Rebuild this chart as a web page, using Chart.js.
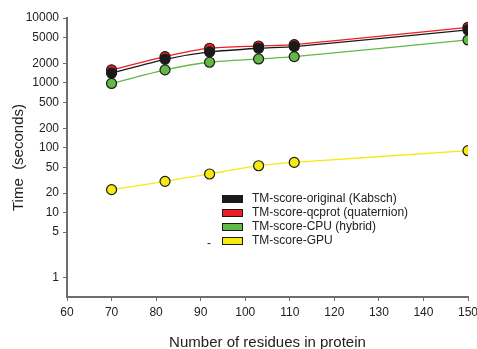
<!DOCTYPE html>
<html>
<head>
<meta charset="utf-8">
<script src="https://cdn.jsdelivr.net/npm/chart.js@4"></script>
<style>
  html, body { margin: 0; padding: 0; background: #fff; }
  #wrap { width: 477px; height: 349px; }
</style>
</head>
<body>
<div id="wrap"><canvas id="chart" width="477" height="349"></canvas></div>
<script>
const residues = [70, 82, 92, 103, 111, 150];
const kabsch = [1410, 2310, 3000, 3420, 3630, 6540];
const qcprot = [1585, 2540, 3420, 3700, 3890, 7190];
const cpuHybrid = [980, 1585, 2080, 2340, 2540, 4590];
const gpu = [22.6, 30.3, 39.4, 52.8, 59.4, 90];
const yTicks = [10000, 5000, 2000, 1000, 500, 200, 100, 50, 20, 10, 5, 1];
const seriesNames = ['TM-score-original (Kabsch)', 'TM-score-qcprot (quaternion)', 'TM-score-CPU (hybrid)', 'TM-score-GPU'];

const COLORS = {
  black: '#1a1a1a',
  red: '#ee1c24',
  green: '#62b946',
  yellow: '#f7ea10',
  axis: '#6e6e6e',
  text: '#222222'
};

function mkSet(label, vals, color) {
  return {
    label: label,
    data: residues.map((x, i) => ({ x: x, y: vals[i] })),
    borderColor: color,
    backgroundColor: color,
    borderWidth: 1.3,
    pointRadius: 5,
    pointBorderColor: '#1a1a1a',
    pointBorderWidth: 1.2,
    pointBackgroundColor: color,
    tension: 0.2
  };
}

// legend drawn inside the plot like the original
const insideLegend = {
  id: 'insideLegend',
  afterDraw(chart) {
    const ctx = chart.ctx;
    const x0 = 222, y0 = 195, step = 14;
    ctx.save();
    ctx.font = '12px Arial, "Liberation Sans", sans-serif';
    ctx.textBaseline = 'middle';
    chart.data.datasets.forEach((ds, i) => {
      const y = y0 + i * step;
      ctx.fillStyle = ds.borderColor;
      ctx.fillRect(x0, y, 21, 8);
      ctx.strokeStyle = '#1a1a1a';
      ctx.lineWidth = 1;
      ctx.strokeRect(x0 + 0.5, y + 0.5, 20, 7);
      ctx.fillStyle = COLORS.text;
      ctx.fillText(ds.label, x0 + 30, y + 4);
    });
    ctx.fillText('-', 207, y0 + 3 * step + 7);
    ctx.restore();
  }
};

new Chart(document.getElementById('chart'), {
  type: 'line',
  data: {
    datasets: [
      mkSet(seriesNames[0], kabsch, COLORS.black),
      mkSet(seriesNames[1], qcprot, COLORS.red),
      mkSet(seriesNames[2], cpuHybrid, COLORS.green),
      mkSet(seriesNames[3], gpu, COLORS.yellow)
    ]
  },
  options: {
    responsive: false,
    animation: false,
    layout: { padding: { top: 18, right: 9, left: 0, bottom: 0 } },
    plugins: {
      legend: { display: false },
      tooltip: { enabled: false }
    },
    scales: {
      x: {
        type: 'linear',
        min: 60,
        max: 150,
        ticks: {
          stepSize: 10,
          color: COLORS.text,
          font: { size: 12, family: 'Arial, "Liberation Sans", sans-serif' },
          padding: 4,
          maxRotation: 0
        },
        grid: { drawOnChartArea: false, tickLength: 4, color: COLORS.axis },
        border: { color: COLORS.axis, width: 2 },
        title: {
          display: true,
          text: 'Number of residues in protein',
          color: COLORS.text,
          font: { size: 15, family: 'Arial, "Liberation Sans", sans-serif' },
          padding: { top: 14, bottom: -3 }
        },
        afterFit(scale) {
          scale.height = 52;
          scale.paddingRight = 0;
        }
      },
      y: {
        type: 'logarithmic',
        min: 0.5,
        max: 10000,
        afterBuildTicks(scale) {
          scale.ticks = yTicks.map(v => ({ value: v }));
        },
        ticks: {
          color: COLORS.text,
          font: { size: 12, family: 'Arial, "Liberation Sans", sans-serif' },
          padding: 4,
          callback: v => String(v)
        },
        grid: { drawOnChartArea: false, tickLength: 4, color: COLORS.axis },
        border: { color: COLORS.axis, width: 2 },
        title: {
          display: true,
          text: 'Time  (seconds)',
          color: COLORS.text,
          font: { size: 15, family: 'Arial, "Liberation Sans", sans-serif' },
          padding: { top: 10, bottom: 4 }
        },
        afterFit(scale) { scale.width = 67; }
      }
    }
  },
  plugins: [insideLegend]
});
</script>
</body>
</html>
